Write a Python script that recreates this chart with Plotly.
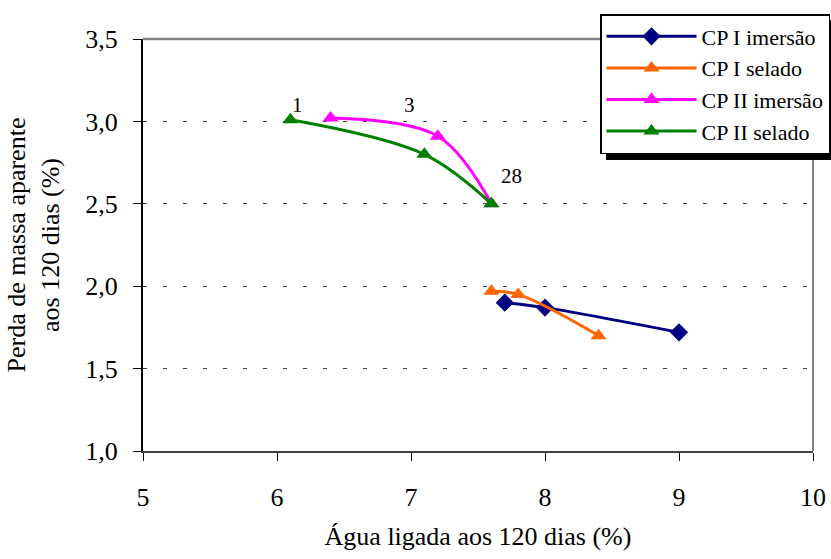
import plotly.graph_objects as go

# Series data: bound water (%) vs apparent mass loss (%) at 120 days
cp1_imersao_x = [7.7, 8.0, 9.0]
cp1_imersao_y = [1.90, 1.87, 1.72]

cp1_selado_x = [7.6, 7.8, 8.4]
cp1_selado_y = [1.97, 1.95, 1.70]

cp2_imersao_x = [6.4, 7.2, 7.6]
cp2_imersao_y = [3.02, 2.91, 2.50]

cp2_selado_x = [6.1, 7.1, 7.6]
cp2_selado_y = [3.01, 2.80, 2.50]

# Curing-age labels (days)
age_labels = ["1", "3", "28"]
age_label_x = [6.15, 6.99, 7.75]
age_label_y = [3.10, 3.10, 2.67]

x_ticks = [5, 6, 7, 8, 9, 10]
y_ticks = [1.0, 1.5, 2.0, 2.5, 3.0, 3.5]
y_tick_text = ["1,0", "1,5", "2,0", "2,5", "3,0", "3,5"]

FONT = "Liberation Serif"

fig = go.Figure()

fig.add_trace(go.Scatter(
    x=cp1_imersao_x, y=cp1_imersao_y, name="CP I imersão",
    mode="lines+markers", line=dict(color="#000080", width=3, shape="spline"),
    marker=dict(symbol="diamond", size=14, color="#000080"),
))
fig.add_trace(go.Scatter(
    x=cp1_selado_x, y=cp1_selado_y, name="CP I selado",
    mode="lines+markers", line=dict(color="#FF6600", width=3, shape="spline"),
    marker=dict(symbol="triangle-up", size=14, color="#FF6600"),
))
fig.add_trace(go.Scatter(
    x=cp2_imersao_x, y=cp2_imersao_y, name="CP II imersão",
    mode="lines+markers", line=dict(color="#FF00FF", width=3, shape="spline"),
    marker=dict(symbol="triangle-up", size=14, color="#FF00FF"),
))
fig.add_trace(go.Scatter(
    x=cp2_selado_x, y=cp2_selado_y, name="CP II selado",
    mode="lines+markers", line=dict(color="#008000", width=3, shape="spline"),
    marker=dict(symbol="triangle-up", size=14, color="#008000"),
))

for t, ax, ay in zip(age_labels, age_label_x, age_label_y):
    fig.add_annotation(x=ax, y=ay, text=t, showarrow=False,
                       font=dict(family=FONT, size=21, color="black"))

# Plot-area frame (top and right) in gray
fig.add_shape(type="line", xref="paper", yref="paper", x0=0, x1=1, y0=1, y1=1,
              line=dict(color="#808080", width=2.5))
fig.add_shape(type="line", xref="paper", yref="paper", x0=1, x1=1, y0=0, y1=1,
              line=dict(color="#808080", width=2))

# Legend drop shadow
fig.add_shape(type="rect", xref="paper", yref="paper",
              x0=(606 - 143) / 670, x1=(840 - 143) / 670,
              y0=(451 - 160) / 412, y1=(451 - 20) / 412,
              line=dict(width=0), fillcolor="black", layer="above")

fig.update_layout(
    width=831, height=559,
    margin=dict(l=143, r=18, t=39, b=108, autoexpand=False),
    paper_bgcolor="white", plot_bgcolor="white",
    font=dict(family=FONT, size=26, color="black"),
    showlegend=True,
    legend=dict(
        x=(600 - 143) / 670, y=(451 - 14) / 412, xanchor="left", yanchor="top",
        bgcolor="white", bordercolor="black", borderwidth=1.5,
        font=dict(family=FONT, size=22, color="black"),
        tracegroupgap=0, itemwidth=90,
    ),
    xaxis=dict(
        range=[5, 10], tickvals=x_ticks, ticks="outside", ticklen=8,
        tickcolor="black", showline=True, linecolor="#404040", linewidth=2,
        showgrid=False, zeroline=False, ticklabelstandoff=14,
        tickfont=dict(family=FONT, size=26, color="black"),
        title=dict(text="Água ligada aos 120 dias (%)",
                   font=dict(family=FONT, size=26, color="black"), standoff=16),
    ),
    yaxis=dict(
        range=[1.0, 3.5], tickvals=y_ticks, ticktext=y_tick_text,
        ticks="outside", ticklen=8, tickcolor="black",
        showline=True, linecolor="black", linewidth=2,
        showgrid=True, gridcolor="#404040", gridwidth=1, griddash="4px,16px",
        zeroline=False, ticklabelstandoff=10,
        tickfont=dict(family=FONT, size=26, color="black"),
        title=dict(text="Perda de massa aparente<br>aos 120 dias (%)",
                   font=dict(family=FONT, size=26, color="black"), standoff=18),
    ),
)

fig.write_html("out.html")
